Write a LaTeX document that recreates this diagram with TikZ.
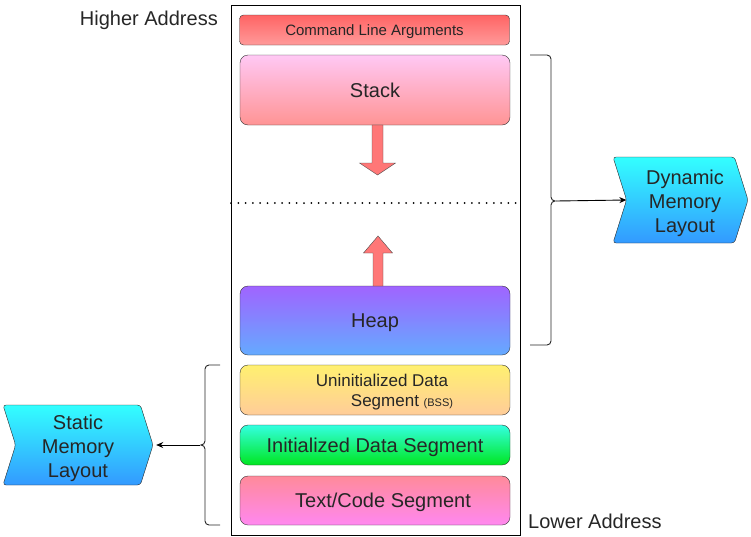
\documentclass[tikz,border=0pt]{standalone}
\usepackage{fontspec}
\setmainfont{Liberation Sans}
\usetikzlibrary{positioning,calc,shapes.symbols,arrows.meta}

\definecolor{claTop}{HTML}{FF6464}
\definecolor{claBot}{HTML}{FF9A9A}
\definecolor{stackTop}{HTML}{FFC8F4}
\definecolor{stackBot}{HTML}{FF9494}
\definecolor{heapTop}{HTML}{A064FF}
\definecolor{heapBot}{HTML}{64AAFF}
\definecolor{bssTop}{HTML}{FFF070}
\definecolor{bssBot}{HTML}{FFCC99}
\definecolor{initTop}{HTML}{33FFE0}
\definecolor{initBot}{HTML}{00E620}
\definecolor{codeTop}{HTML}{FF8A9A}
\definecolor{codeBot}{HTML}{FF88F0}
\definecolor{cyTop}{HTML}{33FFFF}
\definecolor{cyBot}{HTML}{3399FF}
\definecolor{arrRed}{HTML}{FF7777}

\begin{document}
\begin{tikzpicture}[x=1pt,y=-1pt,
    seg/.style={draw=black!80, rounded corners=8pt, minimum width=270pt, inner sep=0pt, outer sep=0pt, text=black!85, text height=15pt, text depth=1pt, font=\fontsize{20}{24}\selectfont},
    blkarrow/.style={draw=black!70, fill=arrRed},
    chevron/.style={signal, signal to=east, signal from=west, signal pointer angle=145, draw=black!85, top color=cyTop, bottom color=cyBot, rounded corners=3pt, align=center, inner sep=0pt, text=black!85, font=\fontsize{20}{24}\selectfont},
    curly/.style={draw=black!85, line width=0.9pt, rounded corners=4pt},
    conn/.style={draw=black, line width=0.9pt, -{Stealth[length=7pt,width=6pt]}},
    addr/.style={text=black!85, inner sep=0pt, text height=15pt, text depth=1pt, font=\fontsize{20}{24}\selectfont}]
    \useasboundingbox (0,0) rectangle (751,536);
    \node[draw=black, line width=0.9pt, minimum width=289pt, minimum height=530pt, outer sep=0pt] (mem) at (375.5,270) {};
    \node[seg, minimum height=30pt, rounded corners=4pt, text height=11pt, text depth=0.5pt, font=\fontsize{15}{18}\selectfont, top color=claTop, bottom color=claBot] (cla) at (374.5,30) {Command Line Arguments};
    \node[seg, minimum height=70pt, top color=stackTop, bottom color=stackBot] (stack) at (375,90) {Stack};
    \node[seg, minimum height=69pt, top color=heapTop, bottom color=heapBot] (heap) at (375,320.5) {Heap};
    \node[seg, minimum height=50pt, align=center, text height=, text depth=, font=\fontsize{17}{20}\selectfont, top color=bssTop, bottom color=bssBot] (bss) at (375,390) {\rule{0pt}{16pt}\hspace*{14pt}Uninitialized Data\\\hspace*{54pt}Segment {\fontsize{11}{13}\selectfont(BSS)}};
    \node[seg, minimum height=40pt, top color=initTop, bottom color=initBot] (init) at (375,445) {Initialized Data Segment};
    \node[seg, minimum height=49pt, top color=codeTop, bottom color=codeBot] (code) at (375,500.5) {\hspace*{16pt}Text/Code Segment};

    \begin{scope}[shift={(stack.south)}]
        \draw[blkarrow] (-3,0) -- (-3,38) -- (-15.5,38) -- (2.5,50) -- (20.5,38) -- (8,38) -- (8,0) -- cycle;
    \end{scope}
    \begin{scope}[shift={(heap.north)}]
        \draw[blkarrow] (-2,0) -- (-2,-33) -- (-11.5,-33) -- (3,-50) -- (17.5,-33) -- (8,-33) -- (8,0) -- cycle;
    \end{scope}
    \draw[line width=2pt, dash pattern=on 0pt off 7.3pt, line cap=round] (231,203) -- (520,203);

    \node[addr, anchor=east] (high) at (218,18) {Higher Address};
    \node[addr, anchor=west] (low) at (528,521) {Lower Address};

    \node[chevron, minimum width=135pt, minimum height=86pt] (dyn) at (680.5,200) {\rule{0pt}{20.5pt}\hspace*{9pt}Dynamic\\\hspace*{9pt}Memory\\\hspace*{9pt}Layout};
    \node[chevron, minimum width=150pt, minimum height=80pt] (stat) at (78,445) {\rule{0pt}{20.5pt}Static\\Memory\\Layout};

    \draw[curly] (530,55) -- (551,55) -- (551,201) -- (556,201) (530,345) -- (551,345) -- (551,201) -- (556,201);
    \draw[curly] (220,365) -- (205,365) -- (205,445) -- (200,445) (220,525) -- (205,525) -- (205,445) -- (200,445);
    \coordinate (dynbr) at (556,201);
    \coordinate (statbr) at (200,445);
    \draw[conn] (dynbr) -- (dyn.west);
    \draw[conn, shorten >=3pt] (statbr) -- (stat.east);
\end{tikzpicture}
\end{document}
